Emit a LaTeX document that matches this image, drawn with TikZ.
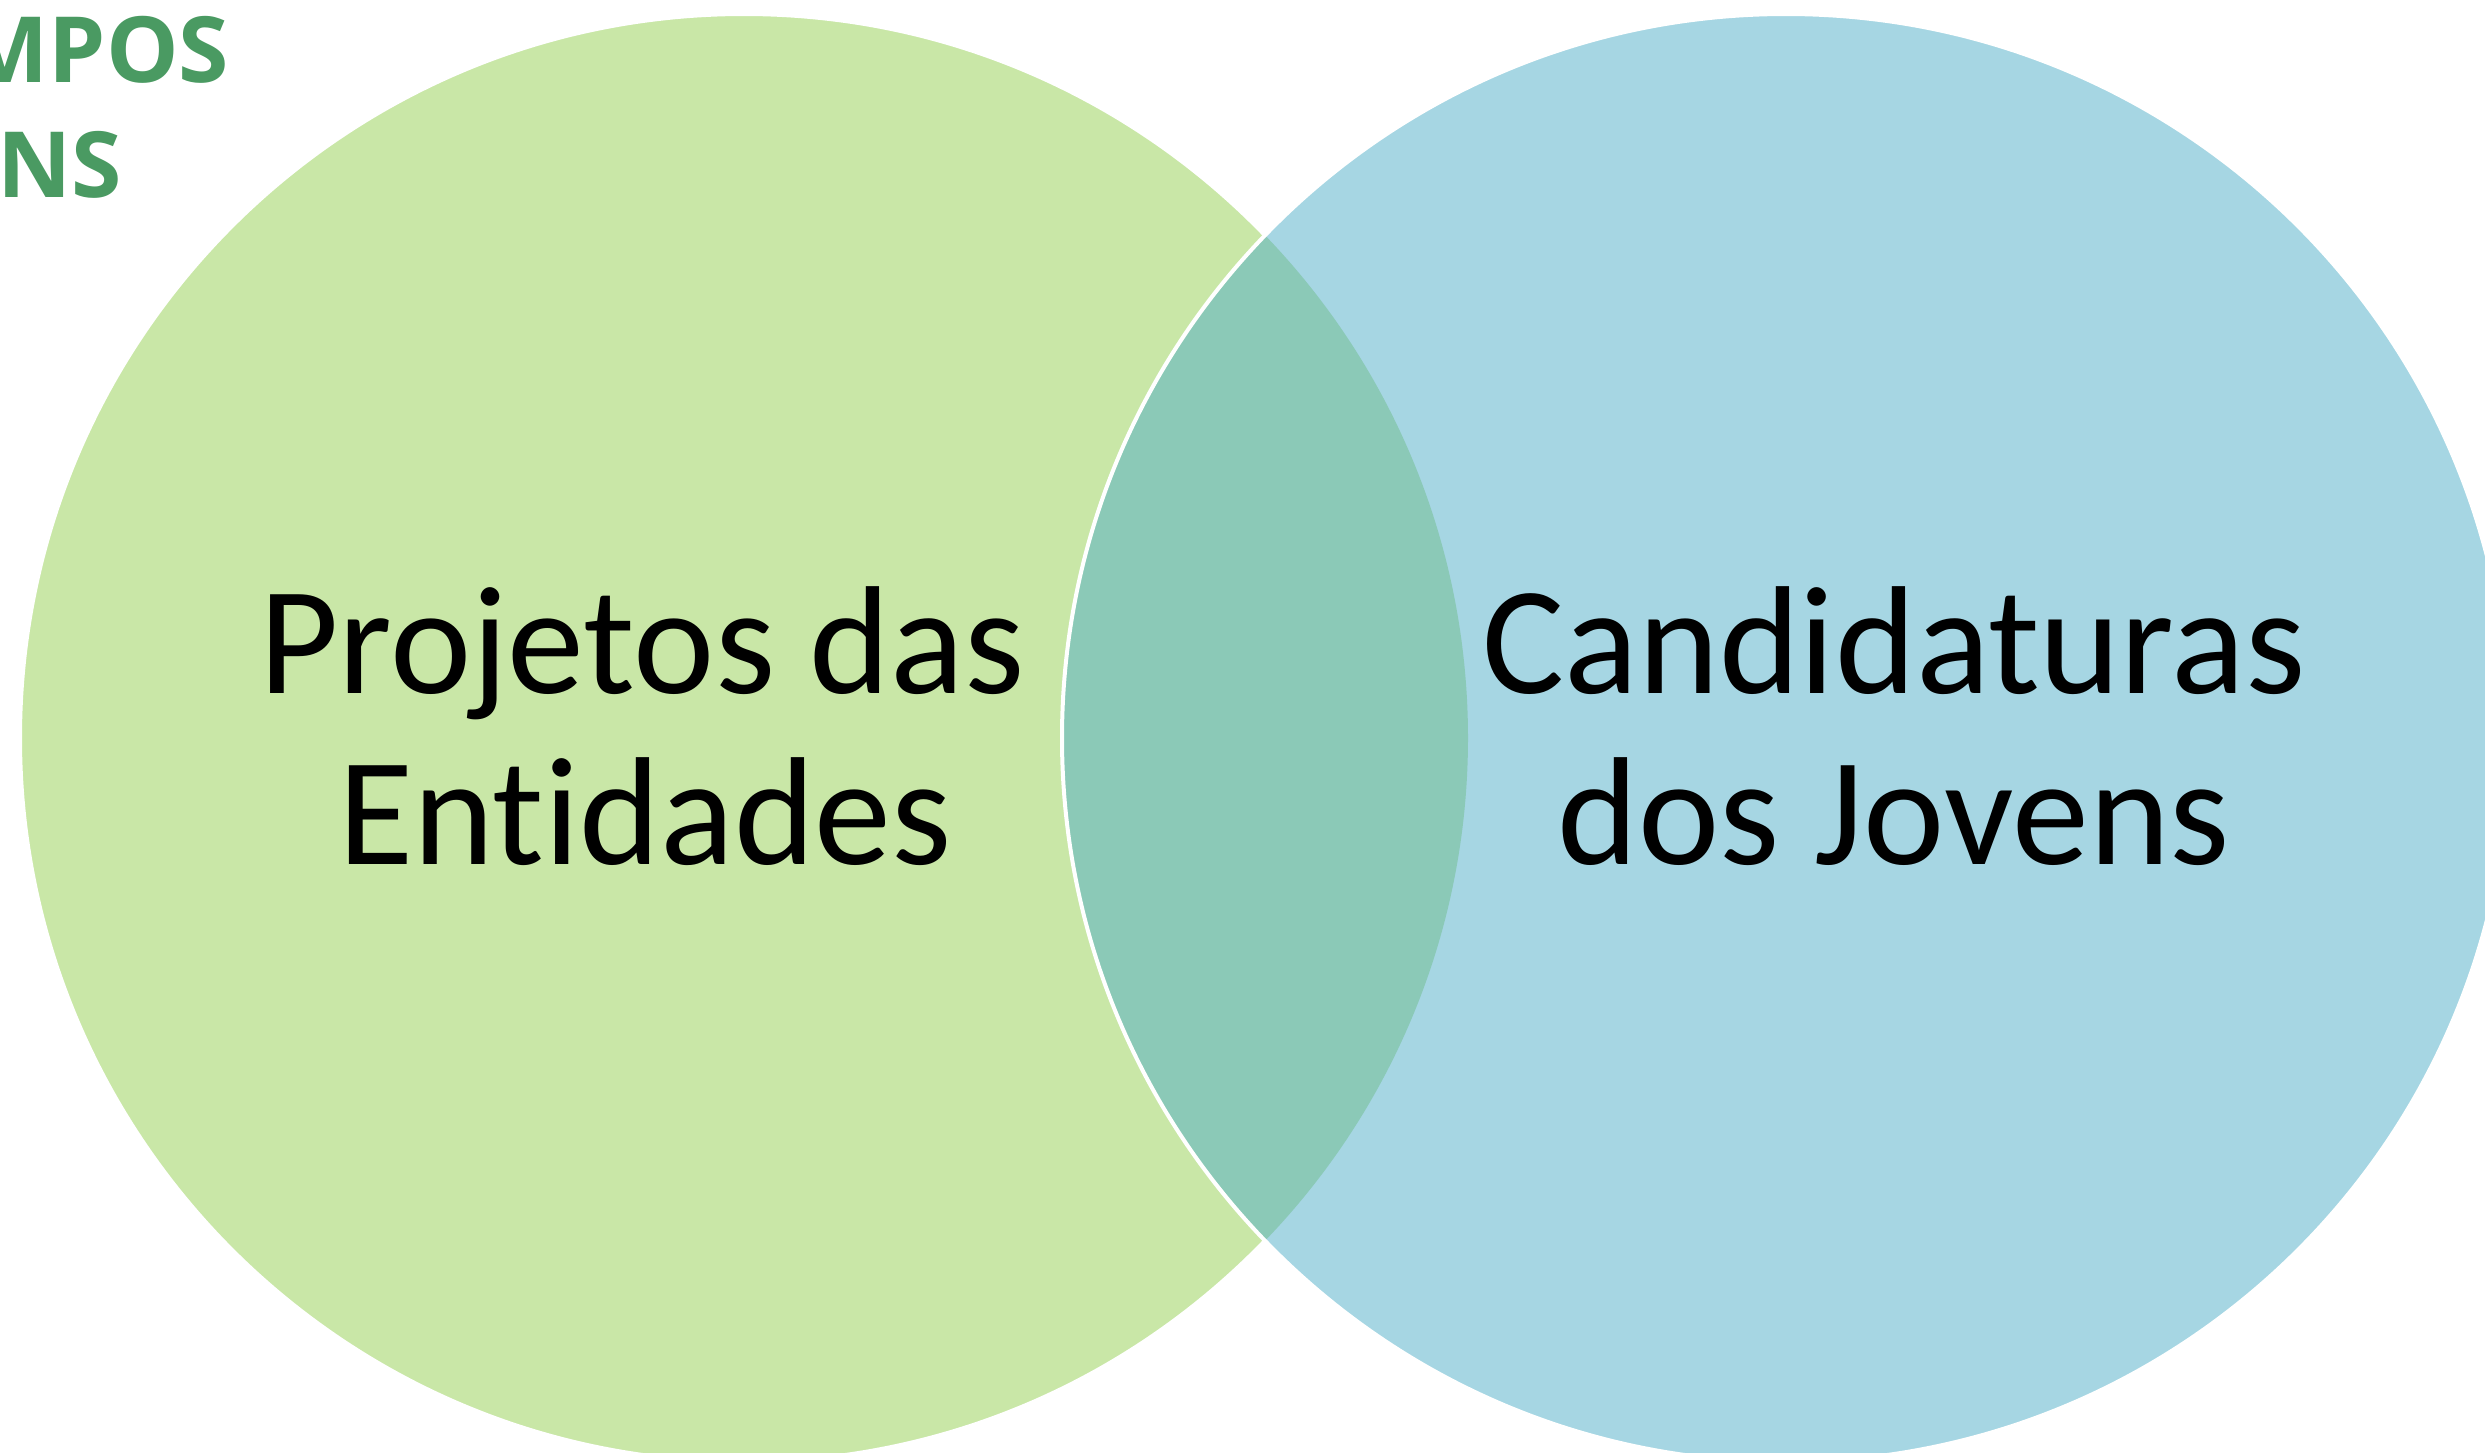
\documentclass[tikz,border=0pt]{standalone}
\usepackage{fontspec}
\setmainfont{Carlito}[Ligatures=NoCommon]
\newfontfamily\titlefont{Open Sans}
\definecolor{cgreen}{HTML}{C9E7A7}
\definecolor{cblue}{HTML}{A6D6E3}
\definecolor{clens}{HTML}{8BC9B7}
\definecolor{ctitle}{HTML}{4A9A62}
\tikzset{
  setbox/.style={fill=#1, draw=white, line width=0.4mm},
  label/.style={inner sep=0pt, anchor=base, font=\fontsize{43.8}{50}\selectfont, text=black},
  corner/.style={inner sep=0pt, anchor=base east, font=\titlefont\bfseries\fontsize{26}{30}\selectfont, text=ctitle}
}
\begin{document}
\begin{tikzpicture}[x=0.1mm, y=-0.1mm]
\useasboundingbox (0,0) rectangle (2485,1453);
\clip (0,0) rectangle (2485,1453);
\coordinate (cl) at (744,738);
\coordinate (cr) at (1786,738);
% left set
\path[setbox=cgreen] (cl) circle[radius=724];
% right set
\path[fill=cblue] (cr) circle[radius=724];
% overlap
\begin{scope}
  \clip (cl) circle[radius=724];
  \path[fill=clens] (cr) circle[radius=724];
\end{scope}
\path[draw=white, line width=0.4mm] (cr) circle[radius=724];
% labels
\node[label] (l1) at (642,693) {Projetos das};
\node[label] (l2) at (645,864) {Entidades};
\node[label] (r1) at (1894,693) {Candidaturas};
\node[label] (r2) at (1894,864) {dos Jovens};
% cut-off title
\node[corner] (t1) at (230,82) {MPOS};
\node[corner] (t2) at (123,197) {NS};
\end{tikzpicture}
\end{document}
